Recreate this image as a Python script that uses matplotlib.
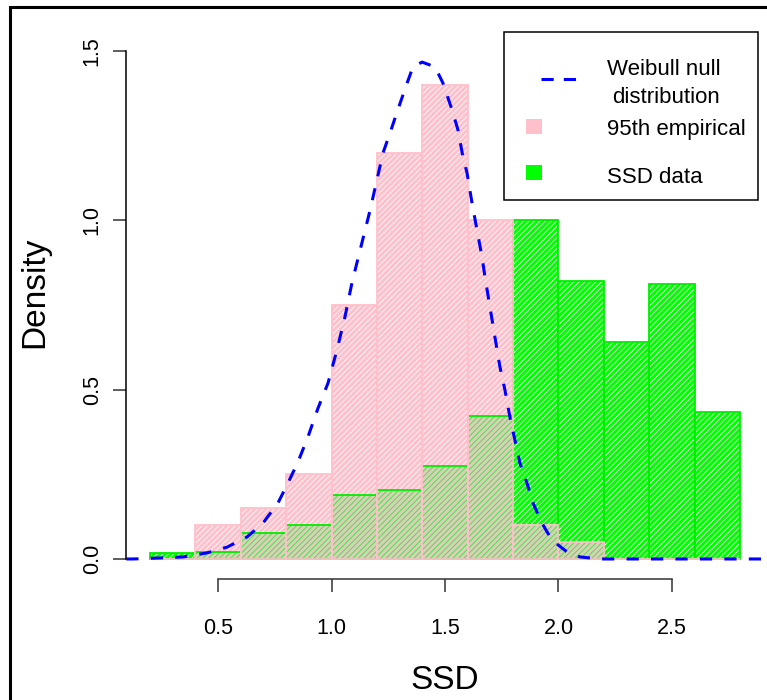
import numpy as np
import matplotlib
matplotlib.use('Agg')
import matplotlib.pyplot as plt
from matplotlib.patches import Rectangle
from matplotlib.lines import Line2D

plt.rcParams['font.family'] = ['Liberation Sans', 'DejaVu Sans']
plt.rcParams['hatch.linewidth'] = 0.6

# histogram bins (width 0.2) and densities
bin_left = [0.2, 0.4, 0.6, 0.8, 1.0, 1.2, 1.4, 1.6, 1.8, 2.0, 2.2, 2.4, 2.6]
empirical95 = [0, 0.10, 0.15, 0.25, 0.75, 1.20, 1.40, 1.00, 0.10, 0.05, 0, 0, 0]
ssd_data = [0.018, 0.022, 0.078, 0.099, 0.189, 0.204, 0.275, 0.422,
            1.00, 0.82, 0.64, 0.811, 0.434]

# weibull null density curve
weib_x = [0.096, 0.126, 0.244, 0.346, 0.452, 0.540, 0.628, 0.698, 0.764, 0.808,
          0.852, 0.896, 0.941, 0.985, 1.024, 1.059, 1.090, 1.126, 1.170, 1.200,
          1.227, 1.258, 1.289, 1.333, 1.359, 1.399, 1.456, 1.491, 1.531, 1.557,
          1.579, 1.597, 1.619, 1.641, 1.663, 1.676, 1.698, 1.720, 1.742, 1.764,
          1.786, 1.808, 1.830, 1.861, 1.888, 1.927, 1.971, 2.037, 2.095, 2.183,
          2.904]
weib_y = [0, 0, 0.003, 0.006, 0.018, 0.035, 0.065, 0.106, 0.165, 0.224,
          0.286, 0.360, 0.446, 0.520, 0.617, 0.714, 0.815, 0.912, 1.030, 1.119,
          1.199, 1.258, 1.320, 1.405, 1.453, 1.467, 1.453, 1.405, 1.326, 1.267,
          1.187, 1.140, 1.051, 0.971, 0.892, 0.833, 0.744, 0.655, 0.567, 0.499,
          0.419, 0.351, 0.283, 0.224, 0.165, 0.106, 0.056, 0.021, 0.006, 0,
          0]

x_ticks = [0.5, 1.0, 1.5, 2.0, 2.5]
y_ticks = [0.0, 0.5, 1.0, 1.5]

W, H = 767, 700
fig = plt.figure(figsize=(W / 100, H / 100), dpi=100)


def fx(px):
    return px / W


def fy(py):
    return 1 - py / H


ax = fig.add_axes([fx(126.3), fy(579.3), fx(763.7) - fx(126.3), fy(30.6) - fy(579.3)])
ax.set_xlim(0.096, 2.904)
ax.set_ylim(-0.06, 1.56)

width = 0.2
overlap = np.minimum(empirical95, ssd_data)
pink = '#ffc0cb'
green = '#00ff00'
hatch = '//////'

# fills: green, pink on top, then the shared part
ax.bar(bin_left, ssd_data, width, align='edge', color=green, edgecolor='white',
       hatch=hatch, linewidth=0)
ax.bar(bin_left, empirical95, width, align='edge', color=pink, edgecolor='white',
       hatch=hatch, linewidth=0)
ax.bar(bin_left, overlap, width, align='edge', color='#dacfb8', edgecolor='#3ee03e',
       hatch=hatch, linewidth=0)
# outlines
ax.bar(bin_left, ssd_data, width, align='edge', fill=False, edgecolor='#00ee00',
       linewidth=1.3)
ax.bar(bin_left, empirical95, width, align='edge', fill=False, edgecolor=pink,
       linewidth=1.3)

ax.plot(weib_x, weib_y, color='#0000ff', lw=2.2, linestyle=(0, (4, 4)))

for s in ['top', 'right']:
    ax.spines[s].set_visible(False)
ax.spines['left'].set_bounds(0, 1.5)
ax.spines['bottom'].set_bounds(0.5, 2.5)
ax.spines['left'].set_linewidth(1.1)
ax.spines['bottom'].set_linewidth(1.1)
ax.spines['bottom'].set_color('#333333')
ax.set_xticks(x_ticks, labels=['%.1f' % v for v in x_ticks])
ax.set_yticks(y_ticks, labels=['%.1f' % v for v in y_ticks])
ax.tick_params(length=9.4, width=1.1, color='#333333', labelsize=15.5)
ax.tick_params(axis='x', pad=18.5)
ax.tick_params(axis='y', pad=7.6, labelrotation=90)
for lab in ax.get_yticklabels():
    lab.set_va('center')

fig.text(fx(445), fy(689), 'SSD', ha='center', va='baseline', fontsize=24)
fig.text(fx(35), fy(292), 'Density', ha='center', va='center', rotation=90, fontsize=24)

# legend
fig.add_artist(Rectangle((fx(504), fy(200)), fx(758) - fx(504), fy(31.7) - fy(200),
                         transform=fig.transFigure, fill=False, ec='black', lw=1.1))
fig.add_artist(Line2D([fx(541), fx(578)], [fy(79), fy(79)], transform=fig.transFigure,
                      color='#0000ff', lw=2.2, linestyle=(0, (4, 3.3))))
fig.add_artist(Rectangle((fx(526), fy(134)), fx(542) - fx(526), fy(119) - fy(134),
                         transform=fig.transFigure, color=pink, lw=0))
fig.add_artist(Rectangle((fx(526), fy(180)), fx(542) - fx(526), fy(165) - fy(180),
                         transform=fig.transFigure, color=green, lw=0))
fig.text(fx(607), fy(75), 'Weibull null', fontsize=16, va='baseline')
fig.text(fx(612), fy(103), 'distribution', fontsize=16, va='baseline')
fig.text(fx(607), fy(135), '95th empirical', fontsize=16, va='baseline')
fig.text(fx(607), fy(183), 'SSD data', fontsize=16, va='baseline')

# outer frame
fig.add_artist(Rectangle((fx(10), fy(720)), fx(790) - fx(10), fy(7) - fy(720),
                         transform=fig.transFigure, fill=False, ec='black', lw=2.2))

fig.savefig('out.png', dpi=100)
